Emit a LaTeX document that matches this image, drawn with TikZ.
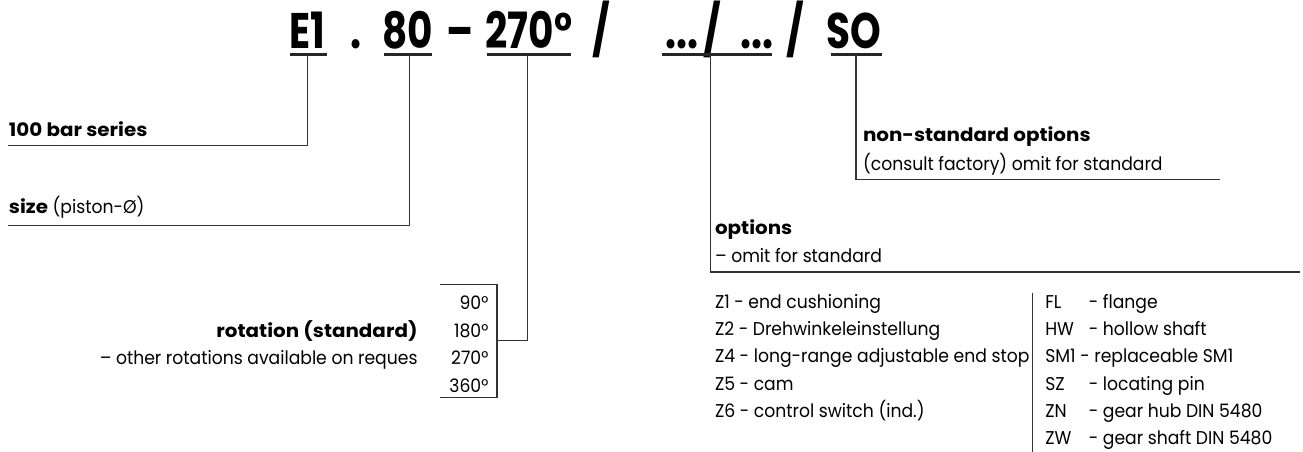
\documentclass[tikz,border=0pt]{standalone}
\usepackage{fontspec}
\setmainfont{Poppins}[FakeStretch=0.93]
\newfontfamily\boldfam{Poppins}[FakeStretch=1.075]
\newfontfamily\titlefont{Poppins}[FakeStretch=0.78]
\begin{document}
\begin{tikzpicture}[x=1pt,y=-1pt,
  lbl/.style={inner sep=0pt, outer sep=0pt, font=\fontsize{18.5}{22}\selectfont},
  blbl/.style={inner sep=0pt, outer sep=0pt, font=\boldfam\fontsize{18.5}{22}\selectfont\bfseries},
  ttl/.style={inner sep=0pt, outer sep=0pt, anchor=base, font=\titlefont\fontsize{50}{50}\selectfont\bfseries},
  conn/.style={line width=1.1pt, draw=black!80},
  uline/.style={line width=2.3pt, draw=black!85}]
\useasboundingbox (0,0) rectangle (1303,452);
% title
\node[ttl] (tE) at (307.7,48.5) {E1};
\node[ttl] (tdot) at (356,48.5) {.};
\node[ttl] (t80) at (408,48.5) {80};
\node[ttl] (tdash) at (460,48.5) {–};
\node[ttl] (t270) at (529,48.5) {270°};
\node[ttl] (ts1) at (601.5,48.5) {/};
\node[ttl] (tdd1) at (681.5,48.5) {...};
\node[ttl] (ts2) at (712,48.5) {/};
\node[ttl] (tdd2) at (756.7,48.5) {...};
\node[ttl] (ts3) at (795,48.5) {/};
\node[ttl] (tSO) at (854,48.5) {SO};
% underlines
\coordinate (uEa) at (290,54.5); \coordinate (uEb) at (327,54.5);
\coordinate (u8a) at (384,54.5); \coordinate (u8b) at (432,54.5);
\coordinate (u2a) at (487,54.5); \coordinate (u2b) at (571,54.5);
\coordinate (uoa) at (661.7,54.5); \coordinate (uob) at (771.7,54.5);
\coordinate (usa) at (830.7,54.5); \coordinate (usb) at (881.7,54.5);
\draw[uline] (uEa) -- (uEb);
\draw[uline] (u8a) -- (u8b);
\draw[uline] (u2a) -- (u2b);
\draw[uline] (uoa) -- (uob);
\draw[uline] (usa) -- (usb);
% connector start points
\coordinate (cE) at (307.7,54.5);
\coordinate (c8) at (409.7,54.5);
\coordinate (c2) at (527.6,54.5);
\coordinate (co) at (710.5,54.5);
\coordinate (cs) at (856,54.5);
% line ends
\coordinate (eE) at (8,145.7);
\coordinate (e8) at (8,225.7);
\coordinate (e2) at (497,340.7);
\coordinate (eo) at (1300,272);
\coordinate (es) at (1219.5,179.5);
\draw[conn] (cE) |- (eE);
\draw[conn] (c8) |- (e8);
\draw[conn] (c2) |- (e2);
\draw[conn] (co) |- (eo);
\draw[conn] (cs) |- (es);
% rotation box
\coordinate (bxa) at (440,284.5);
\coordinate (bxb) at (497,397.3);
\coordinate (bxc) at (440,397.3);
\draw[conn] (bxa) -| (bxb) -- (bxc);
% separator
\coordinate (spa) at (1032.7,292.7);
\coordinate (spb) at (1032.7,452);
\draw[conn] (spa) -- (spb);
% labels
\node[blbl, anchor=base west] (s100) at (9,136.7) {100 bar series};
\node[lbl, anchor=base west] (ssize) at (9,213.3) {{\boldfam\bfseries size} (piston-Ø)};
\node[blbl, anchor=base west] (nso) at (863,141) {non-standard options};
\node[lbl, anchor=base west] (nso2) at (863,170) {(consult factory) omit for standard};
\node[blbl, anchor=base west] (opt) at (715,234) {options};
\node[lbl, anchor=base west] (opt2) at (715,262.5) {– omit for standard};
\node[blbl, anchor=base east] (rot) at (417.5,337) {rotation (standard)};
\node[lbl, anchor=base east] (rot2) at (417.5,364.5) {– other rotations available on reques};
\node[lbl, anchor=base east] (r90) at (488.3,309.5) {90°};
\node[lbl, anchor=base east] (r180) at (488.3,337) {180°};
\node[lbl, anchor=base east] (r270) at (488.3,364.5) {270°};
\node[lbl, anchor=base east] (r360) at (488.3,392.5) {360°};
\node[lbl, anchor=base west] (z1) at (715,308.5) {Z1 - end cushioning};
\node[lbl, anchor=base west] (z2) at (715,335.7) {Z2 - Drehwinkeleinstellung};
\node[lbl, anchor=base west] (z4) at (715,362.9) {Z4 - long-range adjustable end stop};
\node[lbl, anchor=base west] (z5) at (715,390.1) {Z5 - cam};
\node[lbl, anchor=base west] (z6) at (715,417.3) {Z6 - control switch (ind.)};
\node[lbl, anchor=base west] (kFL) at (1045.3,308.5) {FL};
\node[lbl, anchor=base west] (dFL) at (1088.8,308.5) {- flange};
\node[lbl, anchor=base west] (kHW) at (1045.3,335.7) {HW};
\node[lbl, anchor=base west] (dHW) at (1088.8,335.7) {- hollow shaft};
\node[lbl, anchor=base west] (kSM) at (1045.3,362.9) {SM1 - replaceable SM1};
\node[lbl, anchor=base west] (kSZ) at (1045.3,390.1) {SZ};
\node[lbl, anchor=base west] (dSZ) at (1088.8,390.1) {- locating pin};
\node[lbl, anchor=base west] (kZN) at (1045.3,417.3) {ZN};
\node[lbl, anchor=base west] (dZN) at (1088.8,417.3) {- gear hub DIN 5480};
\node[lbl, anchor=base west] (kZW) at (1045.3,444.5) {ZW};
\node[lbl, anchor=base west] (dZW) at (1088.8,444.5) {- gear shaft DIN 5480};
\end{tikzpicture}
\end{document}
